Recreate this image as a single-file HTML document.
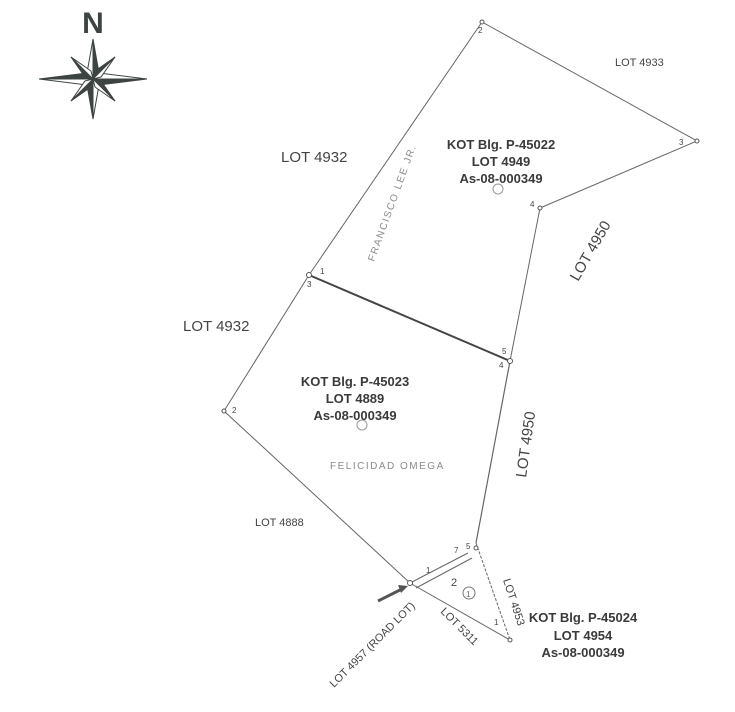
<!DOCTYPE html>
<html><head><meta charset="utf-8"><style>
html,body{margin:0;padding:0;background:#fff;}
svg{display:block;}
text{font-family:"Liberation Sans",sans-serif;fill:#444;}
.b{font-weight:bold;font-size:13px;fill:#3a3a3a;}
.h{font-size:10px;fill:#8a8a8a;letter-spacing:1.5px;}
.n{font-size:8px;fill:#555;}
</style></head><body>
<svg width="735" height="712" viewBox="0 0 735 712" xmlns="http://www.w3.org/2000/svg">
<text x="93" y="33" font-size="30" font-weight="bold" text-anchor="middle" style="fill:#3d4441">N</text>
<g transform="translate(93,79)" stroke="#3d4441" stroke-width="1">
<polygon points="0,-40 6,-6 0,0" fill="#3d4441"/><polygon points="0,-40 -6,-6 0,0" fill="#fff"/>
<polygon points="0,40 -6,6 0,0" fill="#3d4441"/><polygon points="0,40 6,6 0,0" fill="#fff"/>
<polygon points="54,0 6,6 0,0" fill="#3d4441"/><polygon points="54,0 6,-6 0,0" fill="#fff"/>
<polygon points="-54,0 -6,-6 0,0" fill="#3d4441"/><polygon points="-54,0 -6,6 0,0" fill="#fff"/>
<polygon points="22,-22 2,-8 0,0" fill="#3d4441"/><polygon points="22,-22 8,-2 0,0" fill="#fff"/>
<polygon points="-22,22 -2,8 0,0" fill="#3d4441"/><polygon points="-22,22 -8,2 0,0" fill="#fff"/>
<polygon points="-22,-22 -8,-2 0,0" fill="#3d4441"/><polygon points="-22,-22 -2,-8 0,0" fill="#fff"/>
<polygon points="22,22 8,2 0,0" fill="#3d4441"/><polygon points="22,22 2,8 0,0" fill="#fff"/>
</g>
<g fill="none" stroke="#666" stroke-width="1">
<polyline points="309,275 482,22 697,141 540,208 510,361"/>
<line x1="309" y1="275" x2="510" y2="361" stroke="#444" stroke-width="2"/>
<polyline points="309,275 224,411 410,583 510,640"/>
<line x1="510" y1="361" x2="476" y2="543" stroke-width="1.2"/>
<line x1="476" y1="543" x2="510" y2="640" stroke-dasharray="3,1.5"/>
<line x1="410" y1="583" x2="468" y2="553"/>
<line x1="416" y1="588" x2="472" y2="558"/>
<line x1="378" y1="601" x2="402" y2="589" stroke="#555" stroke-width="3"/>
</g>
<polygon points="408,586 398,585 401,593" fill="#555"/>
<g fill="#fff" stroke="#555" stroke-width="1">
<circle cx="482" cy="22" r="2"/><circle cx="697" cy="141" r="2"/><circle cx="540" cy="208" r="2"/>
<circle cx="309" cy="275" r="2.5"/><circle cx="510" cy="361" r="2.5"/><circle cx="224" cy="411" r="2"/>
<circle cx="410" cy="583" r="2.5"/><circle cx="476" cy="548" r="2"/><circle cx="510" cy="640" r="2"/>
</g>
<g class="n">
<text x="478" y="33">2</text><text x="679" y="145">3</text><text x="530" y="207">4</text>
<text x="320" y="274">1</text><text x="307" y="287">3</text><text x="502" y="354">5</text><text x="499" y="368">4</text>
<text x="232" y="413">2</text><text x="426" y="573">1</text><text x="451" y="586" font-size="11">2</text>
<text x="454" y="553">7</text><text x="466" y="549">5</text><text x="494" y="625">1</text>
</g>
<circle cx="498" cy="189" r="5" fill="none" stroke="#999"/>
<circle cx="362" cy="425" r="5" fill="none" stroke="#999"/>
<circle cx="469" cy="593" r="6" fill="none" stroke="#777"/>
<text x="466" y="597" font-size="8" style="fill:#666">1</text>
<text x="615" y="66" font-size="11">LOT 4933</text>
<text x="281" y="162" font-size="15">LOT 4932</text>
<text x="183" y="331" font-size="15">LOT 4932</text>
<text x="255" y="526" font-size="11">LOT 4888</text>
<text class="b" x="501" y="149" text-anchor="middle">KOT Blg. P-45022</text>
<text class="b" x="501" y="166" text-anchor="middle">LOT 4949</text>
<text class="b" x="501" y="183" text-anchor="middle">As-08-000349</text>
<text class="b" x="355" y="386" text-anchor="middle">KOT Blg. P-45023</text>
<text class="b" x="355" y="403" text-anchor="middle">LOT 4889</text>
<text class="b" x="355" y="420" text-anchor="middle">As-08-000349</text>
<text class="b" x="583" y="622" text-anchor="middle">KOT Blg. P-45024</text>
<text class="b" x="583" y="640" text-anchor="middle">LOT 4954</text>
<text class="b" x="583" y="657" text-anchor="middle">As-08-000349</text>
<text font-size="15" transform="translate(578,282) rotate(-60)">LOT 4950</text>
<text font-size="15" transform="translate(526,478) rotate(-82)">LOT 4950</text>
<text font-size="11" transform="translate(503,580) rotate(72)">LOT 4953</text>
<text font-size="11" transform="translate(440,612) rotate(45)">LOT 5311</text>
<text font-size="11" transform="translate(334,688) rotate(-45)">LOT 4957 (ROAD LOT)</text>
<text class="h" transform="translate(374,262) rotate(-70)">FRANCISCO LEE JR.</text>
<text class="h" x="330" y="469">FELICIDAD OMEGA</text>
</svg>
</body></html>
